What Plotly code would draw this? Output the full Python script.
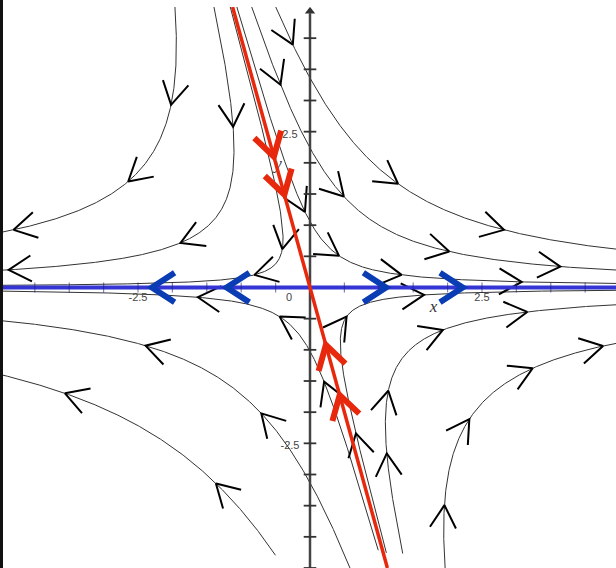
import numpy as np
import plotly.graph_objects as go

# Saddle:  x' = x + y/2,  y' = -y
# eigenvalue +1 along (1, 0), eigenvalue -1 along (1, -4)
A = np.array([[1.0, 0.5],
              [0.0, -1.0]])

X_RANGE = [-4.506, 4.448]
Y_RANGE = [-4.5, 4.5]
W, H, TOP = 616, 568, 7

# starting points of the sample trajectories
start_x = [-1.963, -1.396, -1.159, -0.498, -0.847, -1.063,
           1.110, 1.348, 1.964, 0.992, 0.581, -0.502]
start_y = [4.5, 4.5, 4.5, 4.5, 4.5, 4.5,
           -4.258, -4.268, -4.5, -4.215, -4.5, -4.295]

# y values where a direction arrow sits on each trajectory
arrow_y = [
    [2.931, 1.701, 0.925],
    [2.58, 0.716, 0.283],
    [0.615, 0.202],
    [3.896, 1.664, 0.925],
    [3.253, 1.46, 0.577, 0.336],
    [1.214, 0.508, 0.202, 0.09],
    [-2.34, -0.467, -0.119],
    [-2.661, -1.656, -0.681, -0.392],
    [-3.492, -2.111, -1.296, -0.938],
    [-1.511, -0.467, -0.156],
    [-2.019, -0.933],
    [-3.143, -1.698],
]

# arrows on the unstable line (x axis) and on the stable line
unstable_arrow_x = [-2.297, -1.211, 1.105, 2.219]
stable_arrow_y = [2.10, 1.49, -0.922, -1.725]

tick_values = np.arange(-4.5, 4.01, 0.5)
x_tick_labels = ["-2.5", "0", "2.5"]
y_tick_labels = ["2.5", "-2.5"]

sx = W / (X_RANGE[1] - X_RANGE[0])          # px per unit, horizontal
sy = (H - TOP) / (Y_RANGE[1] - Y_RANGE[0])  # px per unit, vertical

lam, V = np.linalg.eig(A)
Vinv = np.linalg.inv(V)
stable_dir = V[:, np.argmin(lam)]
stable_slope = stable_dir[1] / stable_dir[0]


def flow(p0, t):
    c = Vinv @ np.asarray(p0)
    pts = V @ (c[:, None] * np.exp(np.outer(lam, t)))
    return pts[0], pts[1]


def chevrons(points, arm_px, half_deg):
    xs, ys = [], []
    a = np.radians(half_deg)
    for px, py in points:
        vx, vy = A @ np.array([px, py])
        dx, dy = vx * sx, vy * sy
        n = np.hypot(dx, dy)
        bx, by = -dx / n, -dy / n
        r1 = (bx * np.cos(a) - by * np.sin(a), bx * np.sin(a) + by * np.cos(a))
        r2 = (bx * np.cos(a) + by * np.sin(a), -bx * np.sin(a) + by * np.cos(a))
        xs += [px + r1[0] * arm_px / sx, px, px + r2[0] * arm_px / sx, None]
        ys += [py + r1[1] * arm_px / sy, py, py + r2[1] * arm_px / sy, None]
    return xs, ys


fig = go.Figure()

# sample trajectories
curve_x, curve_y, arrow_pts = [], [], []
t = np.linspace(0, 8, 2000)
for x0, y0, ays in zip(start_x, start_y, arrow_y):
    xs, ys = flow([x0, y0], t)
    keep = np.abs(xs) < 5.0
    last = np.argmin(keep) if not keep.all() else len(keep)
    curve_x += list(xs[:last + 1]) + [None]
    curve_y += list(ys[:last + 1]) + [None]
    for ya in ays:
        ta = np.log(y0 / ya)
        px, py = flow([x0, y0], np.array([ta]))
        arrow_pts.append((px[0], py[0]))

fig.add_trace(go.Scatter(x=curve_x, y=curve_y, mode="lines",
                         line=dict(color="#333333", width=1), hoverinfo="skip"))
cx, cy = chevrons(arrow_pts, 26, 30)
fig.add_trace(go.Scatter(x=cx, y=cy, mode="lines",
                         line=dict(color="#000000", width=2), hoverinfo="skip"))

# axes through the origin
fig.add_trace(go.Scatter(x=[X_RANGE[0], X_RANGE[1]], y=[0, 0], mode="lines",
                         line=dict(color="#555555", width=2), hoverinfo="skip"))
fig.add_trace(go.Scatter(x=[0, 0], y=[Y_RANGE[0], 4.40], mode="lines",
                         line=dict(color="#444444", width=2.5), hoverinfo="skip"))
fig.add_trace(go.Scatter(x=[0], y=[4.43], mode="markers",
                         marker=dict(symbol="triangle-up", size=9, color="#333333"),
                         hoverinfo="skip"))
ytk = [v for v in tick_values if abs(v) > 1e-9]
fig.add_trace(go.Scatter(x=[0] * len(ytk), y=ytk, mode="markers",
                         marker=dict(symbol="line-ew", size=9,
                                     line=dict(color="#333333", width=1.8)),
                         hoverinfo="skip"))

# axis labels
label_font = dict(family="Liberation Sans, Arial, sans-serif", size=11, color="#444444")
fig.add_trace(go.Scatter(x=[-2.5, -0.305, 2.5], y=[-0.175, -0.17, -0.17],
                         text=x_tick_labels, mode="text", textfont=label_font,
                         hoverinfo="skip"))
fig.add_trace(go.Scatter(x=[-0.291, -0.291], y=[2.446, -2.543],
                         text=y_tick_labels, mode="text", textfont=label_font,
                         hoverinfo="skip"))
var_font = dict(family="Liberation Serif, Times New Roman, serif", size=17, color="#333333")
fig.add_trace(go.Scatter(x=[1.795, -0.465], y=[-0.329, 1.965], text=["<i>x</i>", "<i>y</i>"],
                         mode="text", textfont=var_font, hoverinfo="skip"))

# unstable line (x axis) with outward arrows
fig.add_trace(go.Scatter(x=[X_RANGE[0], X_RANGE[1]], y=[0, 0], mode="lines",
                         line=dict(color="#3535d6", width=4), hoverinfo="skip"))
fig.add_trace(go.Scatter(x=ytk, y=[0] * len(ytk), mode="markers",
                         marker=dict(symbol="line-ns", size=7,
                                     line=dict(color="rgba(30,30,110,0.55)", width=1.2)),
                         hoverinfo="skip"))
bx, by = chevrons([(v, 0.0) for v in unstable_arrow_x], 27, 33)
fig.add_trace(go.Scatter(x=bx, y=by, mode="lines",
                         line=dict(color="#0a3cb4", width=6), hoverinfo="skip"))

# stable line with inward arrows
fig.add_trace(go.Scatter(x=[Y_RANGE[1] / stable_slope, Y_RANGE[0] / stable_slope],
                         y=[Y_RANGE[1], Y_RANGE[0]], mode="lines",
                         line=dict(color="#e8280c", width=3.5), hoverinfo="skip"))
rx, ry = chevrons([(v / stable_slope, v) for v in stable_arrow_y], 27, 31)
fig.add_trace(go.Scatter(x=rx, y=ry, mode="lines",
                         line=dict(color="#e8280c", width=6), hoverinfo="skip"))

fig.update_layout(
    width=W, height=H,
    margin=dict(l=0, r=0, t=TOP, b=0),
    paper_bgcolor="white", plot_bgcolor="white",
    showlegend=False,
    xaxis=dict(range=X_RANGE, visible=False, fixedrange=True),
    yaxis=dict(range=Y_RANGE, visible=False, fixedrange=True),
    shapes=[dict(type="rect", xref="paper", yref="paper",
                 x0=0, x1=3 / W, y0=0, y1=1 + TOP / (H - TOP),
                 fillcolor="#111111", line=dict(width=0))],
)

fig.write_html("out.html")
